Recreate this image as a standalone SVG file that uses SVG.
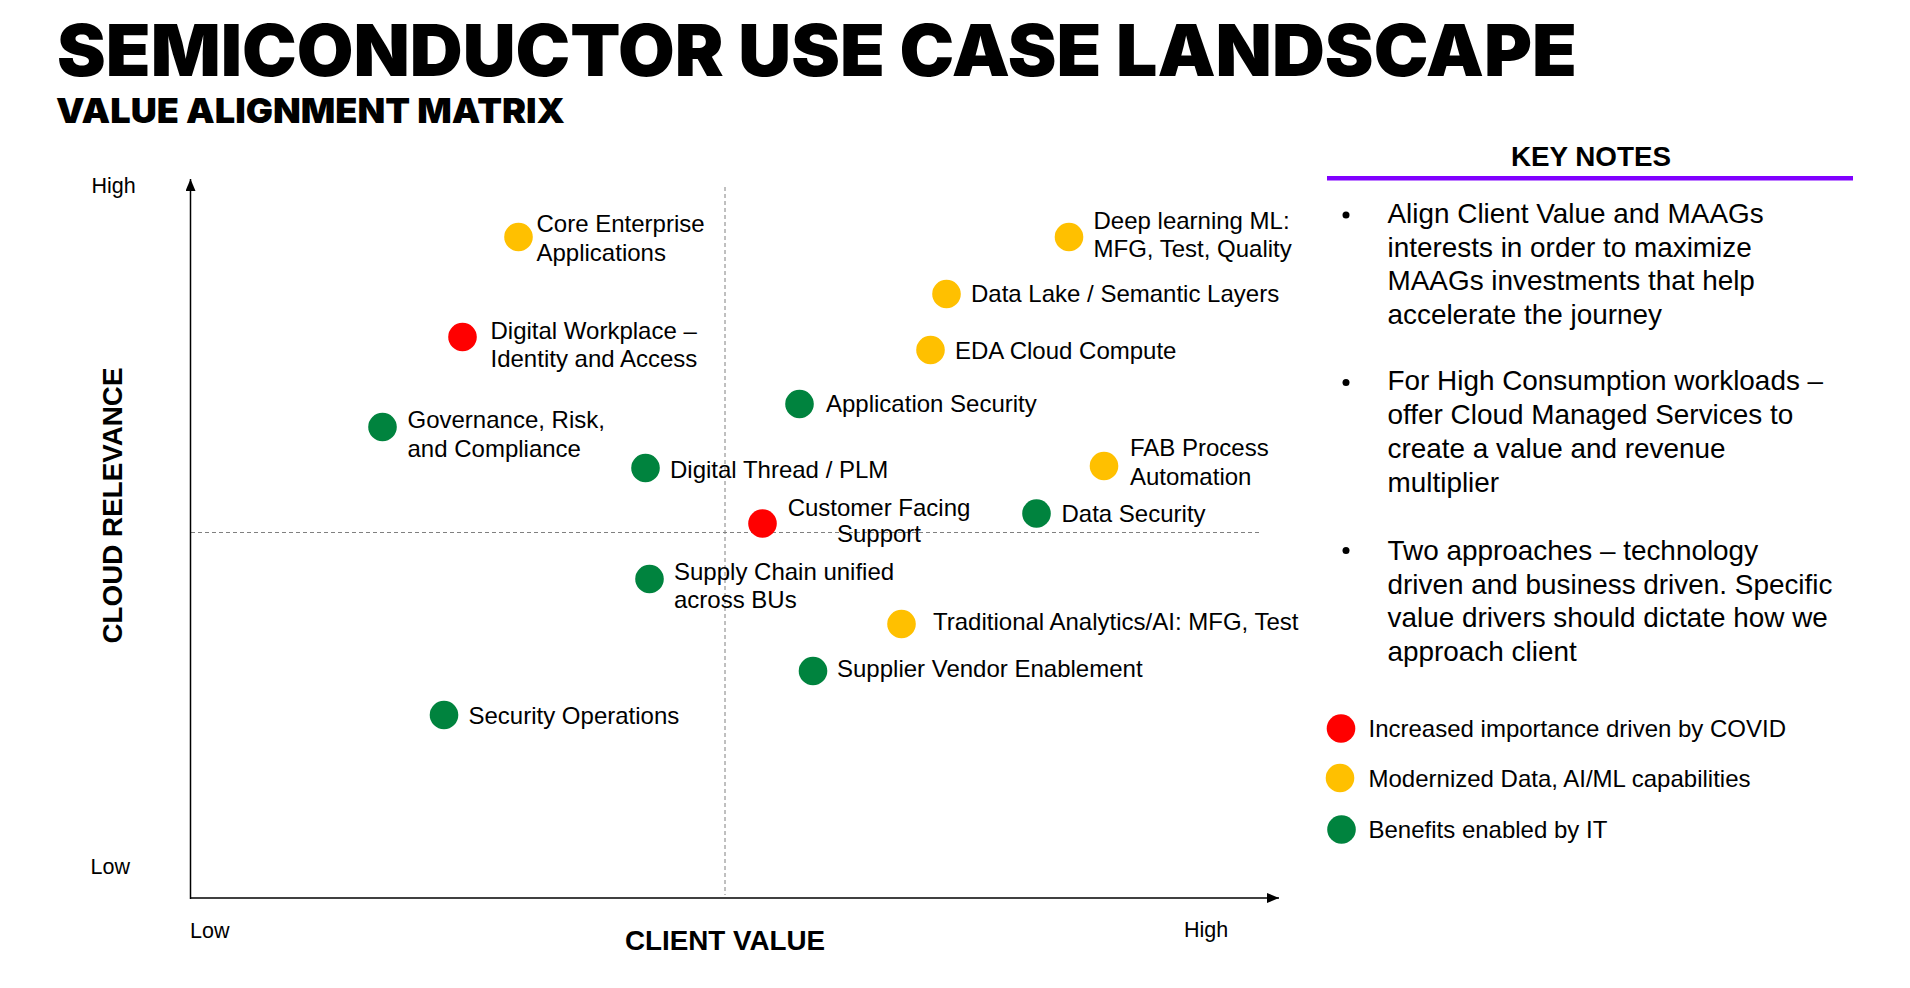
<svg xmlns="http://www.w3.org/2000/svg" width="1910" height="988" viewBox="0 0 1910 988">
<defs>
<style>
text{font-family:"Liberation Sans",Arial,sans-serif;fill:#000}
.title{font-family:Inter,"Liberation Sans",Arial,sans-serif;font-weight:900;font-size:71px}
.sub{font-family:Inter,"Liberation Sans",Arial,sans-serif;font-weight:900;font-size:34px}
.hdr{font-weight:bold;font-size:27.8px}
.note{font-size:27.9px}
.lbl{font-size:24px}
.ax{font-size:21.5px}
.r{fill:#FF0000}
.y{fill:#FFC000}
.g{fill:#00833E}
.axis{stroke:#000;stroke-width:1.5;fill:none}
.dash{stroke:#808080;stroke-width:1;stroke-dasharray:4 3;fill:none}
</style>
<marker id="arr" markerUnits="userSpaceOnUse" markerWidth="13" markerHeight="11" refX="12" refY="5" orient="auto">
<path d="M0,0 L12,5 L0,10 z" fill="#000"/>
</marker>
</defs>
<rect width="1910" height="988" fill="#fff"/>

<g id="header">
<text class="title" x="57" y="75.5" textLength="1520" lengthAdjust="spacingAndGlyphs">SEMICONDUCTOR USE CASE LANDSCAPE</text>
<text class="sub" x="56" y="123" textLength="509" lengthAdjust="spacingAndGlyphs">VALUE ALIGNMENT MATRIX</text>
</g>

<g id="connectors">
<line class="dash" x1="725" y1="187" x2="725" y2="895"/>
<line class="dash" x1="191" y1="532.5" x2="1261" y2="532.5"/>
<line class="axis" x1="190.5" y1="899" x2="190.5" y2="179" marker-end="url(#arr)"/>
<line class="axis" x1="190" y1="898" x2="1279" y2="898" marker-end="url(#arr)"/>
</g>

<g id="axis-labels">
<text class="ax" x="91.5" y="193">High</text>
<text class="ax" x="90.5" y="874">Low</text>
<text class="ax" x="190" y="937.5">Low</text>
<text class="ax" x="1184" y="937">High</text>
<text class="hdr" x="725" y="950" text-anchor="middle">CLIENT VALUE</text>
<text class="hdr" transform="translate(121.5,505.5) rotate(-90)" text-anchor="middle">CLOUD RELEVANCE</text>
</g>

<g id="n-core-enterprise"><circle class="y" cx="518.5" cy="237" r="14.3"/><text class="lbl" x="536.5" y="232">Core Enterprise</text><text class="lbl" x="536.5" y="261">Applications</text></g>
<g id="n-deep-learning"><circle class="y" cx="1069" cy="237" r="14.3"/><text class="lbl" x="1093.5" y="228.5">Deep learning ML:</text><text class="lbl" x="1093.5" y="257">MFG, Test, Quality</text></g>
<g id="n-data-lake"><circle class="y" cx="946.5" cy="294" r="14.3"/><text class="lbl" x="971" y="302">Data Lake / Semantic Layers</text></g>
<g id="n-digital-workplace"><circle class="r" cx="462.5" cy="337" r="14.3"/><text class="lbl" x="490.5" y="339">Digital Workplace –</text><text class="lbl" x="490.5" y="367">Identity and Access</text></g>
<g id="n-eda"><circle class="y" cx="930.5" cy="350" r="14.3"/><text class="lbl" x="955" y="359">EDA Cloud Compute</text></g>
<g id="n-app-security"><circle class="g" cx="799.5" cy="404" r="14.3"/><text class="lbl" x="826" y="412">Application Security</text></g>
<g id="n-governance"><circle class="g" cx="382.5" cy="427" r="14.3"/><text class="lbl" x="407.5" y="428">Governance, Risk,</text><text class="lbl" x="407.5" y="457">and Compliance</text></g>
<g id="n-fab"><circle class="y" cx="1104" cy="466" r="14.3"/><text class="lbl" x="1130" y="456">FAB Process</text><text class="lbl" x="1130" y="485">Automation</text></g>
<g id="n-digital-thread"><circle class="g" cx="645.5" cy="468" r="14.3"/><text class="lbl" x="670" y="478">Digital Thread / PLM</text></g>
<g id="n-data-security"><circle class="g" cx="1036.5" cy="513.5" r="14.3"/><text class="lbl" x="1061.5" y="522">Data Security</text></g>
<g id="n-customer-facing"><circle class="r" cx="762.5" cy="523.5" r="14.3"/><text class="lbl" x="879" y="516" text-anchor="middle">Customer Facing</text><text class="lbl" x="879" y="542" text-anchor="middle">Support</text></g>
<g id="n-supply-chain"><circle class="g" cx="649.5" cy="579" r="14.3"/><text class="lbl" x="674" y="580">Supply Chain unified</text><text class="lbl" x="674" y="608">across BUs</text></g>
<g id="n-traditional"><circle class="y" cx="901.5" cy="624" r="14.3"/><text class="lbl" x="933" y="630">Traditional Analytics/AI: MFG, Test</text></g>
<g id="n-supplier"><circle class="g" cx="813" cy="671" r="14.3"/><text class="lbl" x="837" y="677">Supplier Vendor Enablement</text></g>
<g id="n-security-ops"><circle class="g" cx="444" cy="715" r="14.3"/><text class="lbl" x="468.5" y="724">Security Operations</text></g>

<g id="key-notes">
<text class="hdr" x="1591" y="166" text-anchor="middle">KEY NOTES</text>
<rect x="1327" y="176" width="526" height="4.5" fill="#8000FF"/>
<circle cx="1346" cy="215" r="3.5" fill="#000"/>
<text class="note" x="1387.5" y="222.5">Align Client Value and MAAGs</text>
<text class="note" x="1387.5" y="256.5">interests in order to maximize</text>
<text class="note" x="1387.5" y="290">MAAGs investments that help</text>
<text class="note" x="1387.5" y="323.5">accelerate the journey</text>
<circle cx="1346" cy="382.5" r="3.5" fill="#000"/>
<text class="note" x="1387.5" y="390">For High Consumption workloads –</text>
<text class="note" x="1387.5" y="424">offer Cloud Managed Services to</text>
<text class="note" x="1387.5" y="458">create a value and revenue</text>
<text class="note" x="1387.5" y="491.5">multiplier</text>
<circle cx="1346" cy="550.5" r="3.5" fill="#000"/>
<text class="note" x="1387.5" y="560">Two approaches – technology</text>
<text class="note" x="1387.5" y="593.5">driven and business driven. Specific</text>
<text class="note" x="1387.5" y="627">value drivers should dictate how we</text>
<text class="note" x="1387.5" y="660.5">approach client</text>
</g>

<g id="legend">
<g id="legend-covid"><circle class="r" cx="1341" cy="728.5" r="14.3"/><text class="lbl" x="1368.5" y="737">Increased importance driven by COVID</text></g>
<g id="legend-data"><circle class="y" cx="1340" cy="778" r="14.3"/><text class="lbl" x="1368.5" y="787">Modernized Data, AI/ML capabilities</text></g>
<g id="legend-it"><circle class="g" cx="1341.5" cy="829.5" r="14.3"/><text class="lbl" x="1368.5" y="838">Benefits enabled by IT</text></g>
</g>
</svg>
